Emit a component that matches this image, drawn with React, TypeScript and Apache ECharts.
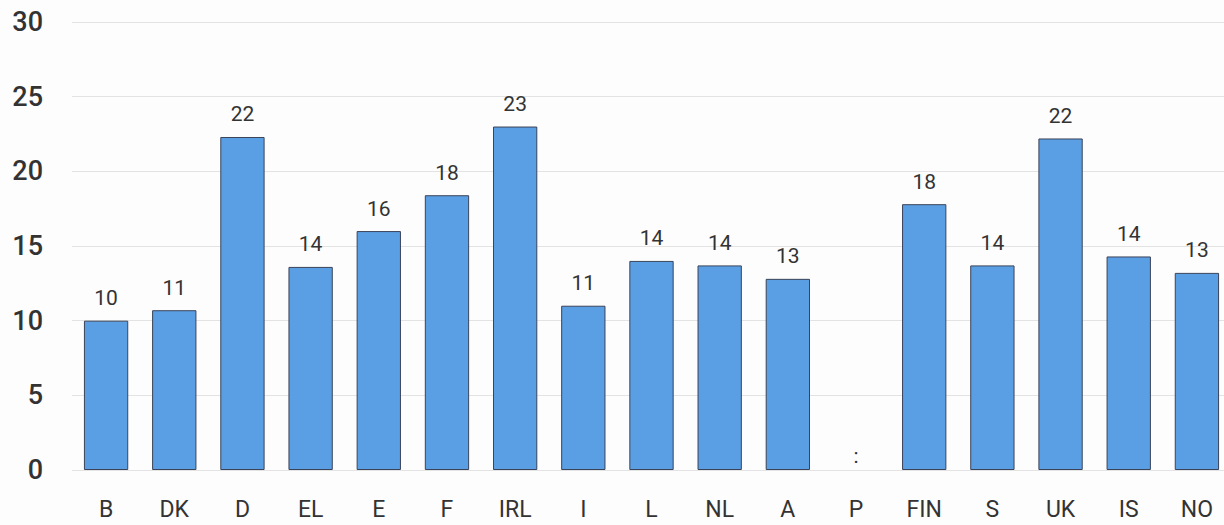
import React, { useEffect, useRef } from "react";
import * as echarts from "echarts";

const categories = ["B", "DK", "D", "EL", "E", "F", "IRL", "I", "L", "NL", "A", "P", "FIN", "S", "UK", "IS", "NO"];
const values: (number | null)[] = [10.0, 10.7, 22.3, 13.6, 16.0, 18.4, 23.0, 11.0, 14.0, 13.7, 12.8, null, 17.8, 13.7, 22.2, 14.3, 13.2];
const missingLabel = ":";

export default function App() {
  const ref = useRef<HTMLDivElement>(null);
  useEffect(() => {
    const chart = echarts.init(ref.current!, null, { renderer: "svg" });
    const data = values.map((v) =>
      v === null
        ? {
            value: 0,
            itemStyle: { borderWidth: 0, color: "rgba(0,0,0,0)" },
            label: { show: true, formatter: missingLabel, distance: 4 },
          }
        : v
    );
    chart.setOption({
      animation: false,
      backgroundColor: "#fdfdfd",
      grid: { left: 72, top: 22, width: 1159, bottom: 55 },
      xAxis: {
        type: "category",
        data: categories,
        axisLine: { show: false },
        axisTick: { show: false },
        axisLabel: { color: "#333", fontSize: 23, fontFamily: "Roboto", margin: 28 },
      },
      yAxis: {
        type: "value",
        min: 0,
        max: 30,
        interval: 5,
        axisLine: { show: false },
        axisTick: { show: false },
        axisLabel: { color: "#333", fontSize: 27, fontFamily: "Roboto", fontWeight: 500, margin: 29 },
        splitLine: { lineStyle: { color: "#e3e3e3", width: 1 } },
      },
      series: [
        {
          type: "bar",
          data,
          barWidth: "65%",
          itemStyle: { color: "#5a9fe4", borderColor: "#3a4358", borderWidth: 1 },
          label: {
            show: true,
            position: "top",
            distance: 12,
            color: "#333",
            fontSize: 21,
            fontFamily: "Roboto",
            formatter: (p: any) => String(Math.round(p.value)),
          },
        },
      ],
    });
    return () => chart.dispose();
  }, []);
  return <div ref={ref} style={{ position: "fixed", left: 0, top: 0, width: 1240, height: 525 }} />;
}
